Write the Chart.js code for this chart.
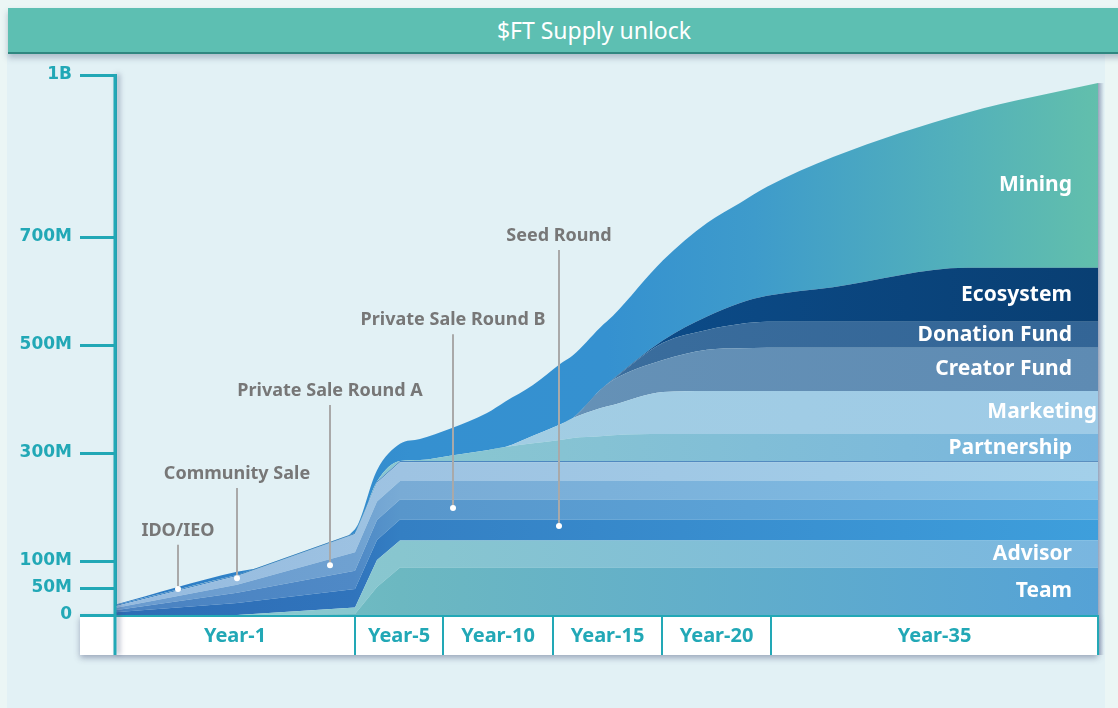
<!DOCTYPE html>
<html>
<head>
<meta charset="utf-8">
<script src="https://cdn.jsdelivr.net/npm/chart.js@4.4.0/dist/chart.umd.min.js"></script>
<style>
  html, body { margin:0; padding:0; background:#ebf6f5; }
  #wrap { position:relative; width:1118px; height:708px; overflow:hidden; }
  #panel { position:absolute; left:7px; top:54px; width:1098px; height:654px; background:#e2f1f5; }
  #banner { position:absolute; left:8px; top:8px; width:1172px; height:44px; background:#5dbfb2;
            border-bottom:2px solid #2f8780; box-shadow:0 4px 6px rgba(70,90,120,0.35);
            color:#fff; font:23px "Noto Sans", sans-serif; line-height:44px; text-align:center; }
  canvas { position:absolute; left:0; top:0; }
</style>
</head>
<body>
<div id="wrap">
  <div id="panel"></div>
  <div id="banner">$FT Supply unlock</div>
  <canvas id="myChart" width="1118" height="708"></canvas>
</div>

<script>
// time axis in arbitrary units, band edges for the year boxes
var bandEdges  = [0, 24, 32.8, 43.8, 54.7, 65.6, 98.3];
var yearLabels = ["Year-1", "Year-5", "Year-10", "Year-15", "Year-20", "Year-35"];

var yTicks      = [0, 50, 100, 300, 500, 700, 1000];
var yTickLabels = ["0", "50M", "100M", "300M", "500M", "700M", "1B"];

// supply per allocation (millions), stacked bottom to top
var xs          = [0, 12.2, 24, 26.2, 28.5, 30.5, 33.5, 37.2, 39, 41.8, 44.5, 45.8, 48.5, 49.8, 54.8, 59.2, 62.5, 65.2, 71.8, 85.2, 98.3];
var team        = [0, 0, 2, 52, 88, 88, 88, 88, 88, 88, 88, 88, 88, 88, 88, 88, 88, 88, 88, 88, 88];
var advisor     = [0, 0, 12, 50, 50, 50, 50, 50, 50, 50, 50, 50, 50, 50, 50, 50, 50, 50, 50, 50, 50];
var seedRound   = [5, 22, 34, 37, 39, 39, 39, 39, 39, 39, 39, 39, 39, 39, 39, 39, 39, 39, 39, 39, 39];
var privateB    = [4, 19, 34, 37, 37, 37, 37, 37, 37, 37, 37, 37, 37, 37, 37, 37, 37, 37, 37, 37, 37];
var privateA    = [4, 15, 34, 34, 34, 34, 34, 34, 34, 34, 34, 34, 34, 34, 34, 34, 34, 34, 34, 34, 34];
var community   = [3, 16, 34, 35, 35, 35, 35, 35, 35, 35, 35, 35, 35, 35, 35, 35, 35, 35, 35, 35, 35];
var idoIeo      = [2, 2, 2, 2, 2, 2, 2, 2, 2, 2, 2, 2, 2, 2, 2, 2, 2, 2, 2, 2, 2];
var partnership = [0, 0, 0, 0, 0, 2, 10, 20, 26, 33, 39, 43, 46, 48, 50, 50, 50, 50, 50, 50, 50];
var marketing   = [0, 0, 0, 0, 0, 0, 0, 0, 0, 14, 29, 37, 52, 56, 78, 80, 80, 80, 80, 80, 80];
var creatorFund = [0, 0, 0, 0, 0, 0, 0, 0, 0, 0, 0, 0, 33, 46, 59, 76, 79, 80, 80, 80, 80];
var donation    = [0, 0, 0, 0, 0, 0, 0, 0, 0, 0, 0, 0, 0, 1, 32, 37, 45, 48, 48, 48, 48];
var ecosystem   = [0, 0, 0, 0, 0, 0, 0, 0, 0, 0, 0, 0, 0, 1, 5, 25, 39, 48, 64, 100, 100];
var mining      = [1, 6, 7, 21, 32, 39, 50, 69, 84, 94, 112, 116, 116, 117, 148, 173, 185, 202, 241, 287, 342];

// callouts: label, x, dot value, text value
var calloutText = ["IDO/IEO", "Community Sale", "Private Sale Round A", "Private Sale Round B", "Seed Round"];
var calloutX    = [6.3, 12.2, 21.5, 33.8, 44.4];
var calloutDot  = [48, 68, 92, 198, 165];
var calloutAt   = [156, 261, 415, 546, 702];

var sideLabelled = ["Team", "Advisor", "Partnership", "Marketing", "Creator Fund", "Donation Fund", "Ecosystem", "Mining"];

var TEAL = "#22a8b6";
var FONT = "'Noto Sans', sans-serif";

function grad(stops) {
  return function (c) {
    var a = c.chart.chartArea;
    if (!a) return stops[0][1];
    var g = c.chart.ctx.createLinearGradient(a.left, 0, a.right, 0);
    stops.forEach(function (s) { g.addColorStop(s[0], s[1]); });
    return g;
  };
}

function layer(label, values, stops, smooth) {
  return {
    label: label,
    data: values.map(function (v, i) { return {x: xs[i], y: v}; }),
    backgroundColor: grad(stops),
    borderWidth: 0,
    pointRadius: 0,
    fill: label === "Team" ? "origin" : "-1",
    tension: smooth ? 0.4 : 0,
    cubicInterpolationMode: smooth ? "monotone" : "default"
  };
}

var datasets = [
  layer("Team", team, [[0, "#7cc6c8"], [0.29, "#6cb8c1"], [1, "#55a2d6"]]),
  layer("Advisor", advisor, [[0, "#8ccbd0"], [0.29, "#88c6cf"], [1, "#79b6e0"]]),
  layer("Seed Round", seedRound, [[0, "#2e6db5"], [0.244, "#3074bc"], [0.29, "#347fc3"], [1, "#3e9fdc"]]),
  layer("Private Sale Round B", privateB, [[0, "#4a82c1"], [0.244, "#4f89c6"], [0.29, "#5896cb"], [1, "#5eaee1"]]),
  layer("Private Sale Round A", privateA, [[0, "#6a9bcf"], [0.244, "#6fa1d1"], [0.29, "#79abd5"], [1, "#80bfe6"]]),
  layer("Community Sale", community, [[0, "#95badf"], [0.29, "#9ec3e2"], [1, "#a3d0ea"]]),
  layer("IDO/IEO", idoIeo, [[0, "#2f7cc2"], [0.29, "#4a86c0"], [1, "#5b8fc0"]]),
  layer("Partnership", partnership, [[0.3, "#8ac7d0"], [1, "#78b5de"]], true),
  layer("Marketing", marketing, [[0.4, "#a2cde3"], [1, "#9ecbe7"]], true),
  layer("Creator Fund", creatorFund, [[0.4, "#6692b7"], [1, "#5e8bb3"]], true),
  layer("Donation Fund", donation, [[0.5, "#3a6d9d"], [1, "#336596"]], true),
  layer("Ecosystem", ecosystem, [[0.5, "#0c4c8a"], [1, "#093f73"]], true),
  layer("Mining", mining, [[0, "#2c78c2"], [0.3, "#3590d0"], [0.5, "#3591d0"], [0.65, "#3e9bcb"], [0.85, "#52b0bb"], [1, "#62bfac"]], true)
];

var decor = {
  id: "decor",
  beforeDraw: function (chart) {
    var ctx = chart.ctx, a = chart.chartArea;
    ctx.save();
    ctx.shadowColor = "rgba(70,80,120,0.45)";
    ctx.shadowBlur = 6;
    ctx.shadowOffsetY = 3;
    ctx.fillStyle = "#fff";
    ctx.fillRect(a.left - 35, a.bottom, a.right - a.left + 35, 40);
    ctx.restore();
  },
  afterDatasetsDraw: function (chart) {
    var ctx = chart.ctx, a = chart.chartArea, x = chart.scales.x, y = chart.scales.y;
    ctx.save();
    // labels on the right side of the stack
    ctx.font = "bold 21px " + FONT;
    ctx.fillStyle = "#fff";
    ctx.textAlign = "right";
    ctx.textBaseline = "middle";
    chart.data.datasets.forEach(function (ds, i) {
      if (sideLabelled.indexOf(ds.label) < 0) return;
      var pts = chart.getDatasetMeta(i).data;
      var top = pts[pts.length - 1].y;
      var bottom = i === 0 ? y.getPixelForValue(0) : chart.getDatasetMeta(i - 1).data[pts.length - 1].y;
      var tx = ds.label === "Marketing" ? a.right - 1 : a.right - 26;
      var ty = (top + bottom) / 2 + (ds.label === "Mining" ? 10 : 0);
      ctx.fillText(ds.label, tx, ty);
    });
    // callouts
    ctx.font = "bold 18px " + FONT;
    ctx.textAlign = "center";
    for (var k = 0; k < calloutText.length; k++) {
      var cx = x.getPixelForValue(calloutX[k]);
      var cty = y.getPixelForValue(calloutAt[k]);
      var dy = y.getPixelForValue(calloutDot[k]);
      ctx.fillStyle = "#777";
      ctx.fillText(calloutText[k], cx, cty);
      ctx.strokeStyle = "#a9a9a9";
      ctx.lineWidth = 2;
      ctx.beginPath();
      ctx.moveTo(cx, cty + 14);
      ctx.lineTo(cx, dy);
      ctx.stroke();
      ctx.fillStyle = "#fff";
      ctx.beginPath();
      ctx.arc(cx, dy, 3, 0, Math.PI * 2);
      ctx.fill();
    }
    // shadow on right edge of the stack
    var last = chart.getDatasetMeta(chart.data.datasets.length - 1).data;
    var g = ctx.createLinearGradient(a.right, 0, a.right + 6, 0);
    g.addColorStop(0, "rgba(90,100,140,0.55)");
    g.addColorStop(1, "rgba(90,100,140,0)");
    ctx.fillStyle = g;
    ctx.fillRect(a.right, last[last.length - 1].y, 6, a.bottom + 40 - last[last.length - 1].y);
    ctx.restore();
  },
  afterDraw: function (chart) {
    var ctx = chart.ctx, a = chart.chartArea, x = chart.scales.x;
    ctx.save();
    ctx.strokeStyle = TEAL;
    ctx.lineWidth = 2;
    ctx.beginPath();
    ctx.moveTo(a.left - 35, a.bottom + 1);
    ctx.lineTo(a.right, a.bottom + 1);
    bandEdges.forEach(function (e) {
      var px = Math.round(x.getPixelForValue(e));
      ctx.moveTo(px, a.bottom);
      ctx.lineTo(px, a.bottom + 40);
    });
    ctx.stroke();
    // y axis line continues through the year row
    ctx.shadowColor = "rgba(70,80,120,0.5)";
    ctx.shadowBlur = 5;
    ctx.shadowOffsetX = 3;
    ctx.lineWidth = 3;
    ctx.beginPath();
    ctx.moveTo(a.left, a.top - 1);
    ctx.lineTo(a.left, a.bottom + 40);
    ctx.stroke();
    ctx.restore();
  }
};

new Chart("myChart", {
  type: "line",
  data: { datasets: datasets },
  plugins: [decor],
  options: {
    responsive: false,
    animation: false,
    layout: { padding: { top: 75, right: 20, bottom: 53, left: 0 } },
    plugins: { legend: { display: false }, tooltip: { enabled: false } },
    scales: {
      x: {
        type: "linear",
        min: 0,
        max: 98.3,
        grid: { display: false, drawTicks: false },
        border: { display: false },
        afterBuildTicks: function (s) {
          s.ticks = yearLabels.map(function (l, i) { return { value: (bandEdges[i] + bandEdges[i + 1]) / 2 }; });
        },
        afterFit: function (s) { s.height = 40; },
        ticks: {
          autoSkip: false,
          maxRotation: 0,
          padding: 9,
          color: TEAL,
          font: { family: FONT, size: 20, weight: "bold" },
          callback: function (v, i) { return yearLabels[i]; }
        }
      },
      y: {
        type: "linear",
        stacked: true,
        min: 0,
        max: 1000,
        afterBuildTicks: function (s) {
          s.ticks = yTicks.map(function (v) { return { value: v }; });
        },
        afterFit: function (s) { s.width = 115; },
        grid: { drawOnChartArea: false, drawTicks: true, tickLength: 35, color: TEAL, lineWidth: 3 },
        border: { display: true, color: TEAL, width: 3 },
        ticks: {
          padding: 8,
          color: TEAL,
          font: { family: "'DejaVu Sans', sans-serif", size: 17, weight: "bold" },
          callback: function (v, i) { return yTickLabels[i]; }
        }
      }
    }
  }
});
</script>
</body>
</html>
